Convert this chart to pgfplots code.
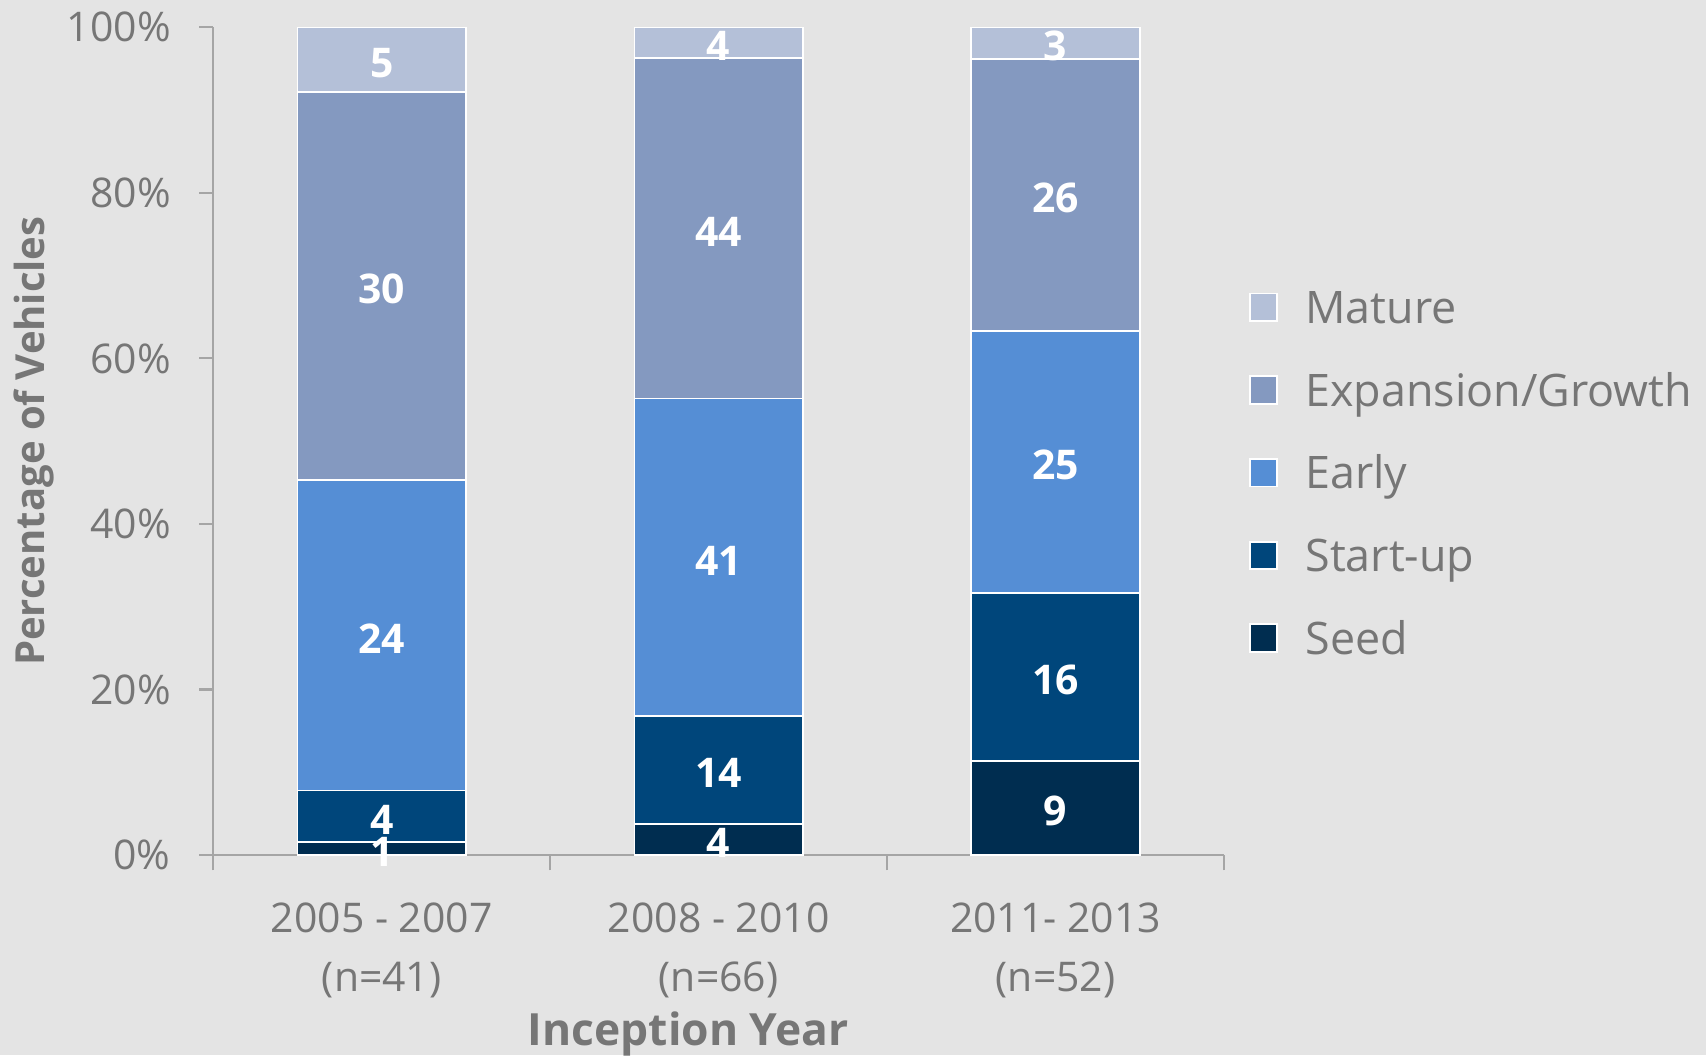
\documentclass[border=0pt]{standalone}
\usepackage{fontspec}
\setmainfont{Open Sans}
\usepackage{pgfplots}
\pgfplotsset{compat=1.18}

\definecolor{bg}{HTML}{E4E4E4}
\definecolor{txt}{HTML}{767676}
\definecolor{axisgray}{HTML}{A5A5A5}
\definecolor{cMature}{HTML}{B4C0D8}
\definecolor{cGrowth}{HTML}{8499C0}
\definecolor{cEarly}{HTML}{558ED5}
\definecolor{cStart}{HTML}{00467B}
\definecolor{cSeed}{HTML}{002D50}

\begin{document}
\begin{tikzpicture}
\fill[bg] (-49pt,-46pt) rectangle (343pt,196.5pt);

\begin{axis}[
    at={(0,0)}, anchor=south west,
    scale only axis,
    width=232.25pt, height=190.25pt,
    ybar stacked, bar width=0.5,
    xmin=-0.5, xmax=2.5, ymin=0, ymax=100,
    axis lines*=left,
    axis line style={axisgray, line width=0.5pt},
    tick align=outside,
    major tick length=3.25pt,
    minor tick length=3.5pt,
    xtick={0,1,2},
    xticklabels={{2005 - 2007\\(n=41)}, {2008 - 2010\\(n=66)}, {2011- 2013\\(n=52)}},
    minor xtick={-0.5,0.5,1.5,2.5},
    major x tick style={draw=none},
    minor x tick style={axisgray, line width=0.5pt},
    y tick style={axisgray, line width=0.5pt},
    ytick={0,20,40,60,80,100},
    /pgf/number format/assume math mode=true,
    yticklabel={\pgfmathprintnumber{\tick}\%},
    ticklabel style={text=txt, font=\fontsize{9.4}{13.4}\selectfont},
    xticklabel style={align=center, yshift=-4.25pt},
    yticklabel style={xshift=-3pt},
    xlabel={Inception Year},
    ylabel={Percentage of Vehicles},
    xlabel style={at={(axis description cs:0.47,-0.2156)}, anchor=center,
        text=txt, font=\bfseries\fontsize{10.2}{12}\selectfont},
    ylabel style={at={(axis description cs:-0.1770,0.5)}, anchor=center,
        text=txt, font=\bfseries\fontsize{9.2}{12}\selectfont},
    legend image code/.code={\draw[#1, draw=white, line width=0.4pt] (0pt,-3.15pt) rectangle (6.3pt,3.15pt);},
    reverse legend,
    legend cell align=left,
    legend style={at={(1.011,0.699)}, anchor=north west, draw=none, fill=none,
        font=\fontsize{10.3}{12}\selectfont, text=txt, row sep=9.2pt,
        nodes={inner sep=0pt, text height=8.6pt, text depth=1.2pt},
        /tikz/every odd column/.append style={column sep=6.25pt}},
]
\addplot[fill=cSeed, draw=white, line width=0.4pt] coordinates {(0,1.56) (1,3.74) (2,11.39)};
\addplot[fill=cStart, draw=white, line width=0.4pt] coordinates {(0,6.25) (1,13.08) (2,20.25)};
\addplot[fill=cEarly, draw=white, line width=0.4pt] coordinates {(0,37.50) (1,38.32) (2,31.65)};
\addplot[fill=cGrowth, draw=white, line width=0.4pt] coordinates {(0,46.88) (1,41.12) (2,32.91)};
\addplot[fill=cMature, draw=white, line width=0.4pt] coordinates {(0,7.81) (1,3.74) (2,3.80)};
\legend{Seed, Start-up, Early, Expansion/Growth, Mature}
\end{axis}

% counts written at the middle of each segment
\begin{axis}[
    at={(0,0)}, anchor=south west,
    scale only axis,
    width=232.25pt, height=190.25pt,
    xmin=-0.5, xmax=2.5, ymin=0, ymax=100,
    hide axis, clip=false,
    nodes near coords, point meta=explicit symbolic,
    every node near coord/.append style={anchor=center, inner sep=0pt, yshift=-0.75pt,
        text=white, font=\bfseries\fontsize{9.4}{11}\selectfont},
]
\addplot[draw=none, mark=none] coordinates {
    (0,0.78)[1] (0,4.69)[4] (0,26.56)[24] (0,68.75)[30] (0,96.09)[5]
    (1,1.87)[4] (1,10.28)[14] (1,35.98)[41] (1,75.70)[44] (1,98.13)[4]
    (2,5.70)[9] (2,21.52)[16] (2,47.47)[25] (2,79.75)[26] (2,98.10)[3]
};
\end{axis}

\pgfresetboundingbox
\path[use as bounding box] (-49pt,-46pt) rectangle (343pt,196.5pt);
\end{tikzpicture}
\end{document}
